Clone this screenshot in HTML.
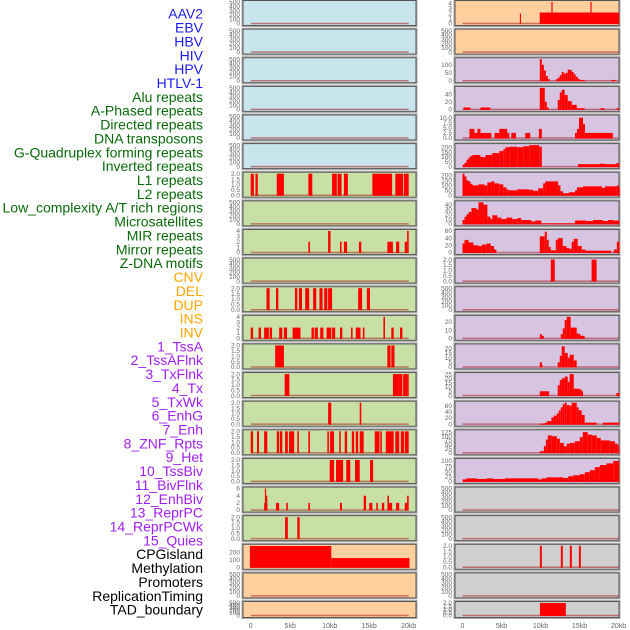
<!DOCTYPE html>
<html><head><meta charset="utf-8">
<style>html,body{margin:0;padding:0;background:#fff}svg{display:block}</style></head>
<body>
<svg id="chart" width="630" height="630" viewBox="0 0 630 630" xmlns="http://www.w3.org/2000/svg">
<g id="labels"></g>
<g id="panels"></g>
<g id="xaxes"></g>
</svg>
<script>
const trackLabels = ["AAV2","EBV","HBV","HIV","HPV","HTLV-1","Alu repeats","A-Phased repeats","Directed repeats","DNA transposons","G-Quadruplex forming repeats","Inverted repeats","L1 repeats","L2 repeats","Low_complexity A/T rich regions","Microsatellites","MIR repeats","Mirror repeats","Z-DNA motifs","CNV","DEL","DUP","INS","INV","1_TssA","2_TssAFlnk","3_TxFlnk","4_Tx","5_TxWk","6_EnhG","7_Enh","8_ZNF_Rpts","9_Het","10_TssBiv","11_BivFlnk","12_EnhBiv","13_ReprPC","14_ReprPCWk","15_Quies","CPGisland","Methylation","Promoters","ReplicationTiming","TAD_boundary"];
const labelGroups = ["virus","virus","virus","virus","virus","virus","repeat","repeat","repeat","repeat","repeat","repeat","repeat","repeat","repeat","repeat","repeat","repeat","repeat","sv","sv","sv","sv","sv","hmm","hmm","hmm","hmm","hmm","hmm","hmm","hmm","hmm","hmm","hmm","hmm","hmm","hmm","hmm","other","other","other","other","other"];
const xTickValues = [0,5,10,15,20];
const xTickLabels = ["0","5kb","10kb","15kb","20kb"];

// Left column panels: y-max, tick values, segments [startKb, endKb, value]
const leftYMax = [500,500,500,500,500,500,2,500,4,500,2,4,2,2,2,2,2,6,2,285,500,500];
const leftTicks = [
[0,100,200,300,400,500],[0,100,200,300,400,500],[0,100,200,300,400,500],[0,100,200,300,400,500],[0,100,200,300,400,500],[0,100,200,300,400,500],
[0,0.5,1,1.5,2],[0,100,200,300,400,500],[0,1,2,3,4],[0,100,200,300,400,500],[0,0.5,1,1.5,2],[0,1,2,3,4],[0,0.5,1,1.5,2],[0,0.5,1,1.5,2],[0,0.5,1,1.5,2],[0,0.5,1,1.5,2],[0,0.5,1,1.5,2],[0,2,4,6],[0,0.5,1,1.5,2],[0,100,200],[0,100,200,300,400,500],[0,100,200,300,400,500]];
const leftSegments = [
[],[],[],[],[],[],
[[0,0.4,2],[0.6,0.9,2],[3.3,4.2,2],[7.3,7.8,2],[10.3,10.9,2],[11.0,11.5,2],[11.8,12.3,2],[15.4,17.9,2],[18.3,19.3,2],[19.4,20,2]],
[],
[[7.3,7.5,2],[9.8,10.1,4],[11.3,11.5,2],[11.8,12.2,2],[13.7,14.0,2],[17.3,18.0,2],[18.4,18.8,2],[19.5,19.8,2],[19.8,20,4]],
[],
[[2.0,2.4,2],[3.2,3.5,2],[5.6,5.9,2],[6.1,6.5,2],[6.9,7.4,2],[7.9,8.3,2],[8.7,9.1,2],[9.3,9.7,2],[9.8,10.3,2],[13.6,14.1,2],[14.7,15.1,2]],
[[0,0.3,2],[1.0,1.3,2],[1.7,2.3,2],[2.4,2.7,2],[3.6,4.0,2],[4.2,4.6,2],[5.3,6.3,2],[7.7,8.0,2],[8.1,8.5,2],[8.8,9.2,2],[9.6,10.2,2],[10.3,10.7,2],[11.3,11.6,2],[12.7,12.9,2],[13.3,13.9,2],[14.2,14.4,2],[16.8,17.0,4],[17.8,18.1,2],[18.9,19.2,2]],
[[3.1,4.2,2],[17.3,17.7,2],[17.8,18.2,2]],
[[4.3,4.9,2],[18.0,18.7,2],[18.7,19.2,2],[19.3,19.9,2],[19.9,20,2]],
[[9.8,10.2,2],[13.8,14.0,2]],
[[0,0.3,2],[0.8,1.05,2],[1.7,2.1,2],[3.3,3.6,2],[3.7,4.0,2],[4.35,4.7,2],[4.85,5.5,2],[5.9,6.1,2],[7.3,7.5,2],[9.7,9.9,2],[10.05,10.55,2],[11.2,11.4,2],[11.9,12.2,2],[12.8,13.1,2],[13.3,13.6,2],[13.8,14.3,2],[15.7,16.3,2],[16.4,16.6,2],[17.1,18.1,2],[18.3,18.8,2],[19.0,19.4,2],[19.5,20,2]],
[[10.0,10.55,2],[10.8,11.7,2],[12.1,12.6,2],[13.2,13.8,2],[15.1,15.5,2]],
[[1.7,2.1,2],[1.8,1.95,6],[1.95,2.1,4],[3.2,3.6,2],[4.5,4.7,2],[7.3,7.5,2],[11.3,11.55,2],[14.3,14.6,4],[15.0,15.4,2],[15.9,16.1,2],[16.6,16.9,2],[17.3,17.5,4],[17.5,17.9,2],[18.4,18.8,2],[19.5,19.8,2],[19.8,20,4]],
[[4.35,4.7,2],[5.9,6.2,2]],
[[-0.1,10.2,282],[10.2,20.1,122]],
[],[]];

const rightYMax = [4.3,500,135,57,10.6,222,218,45,60,2,500,26,23,25,70,130,105,500,500,2,500,2];
const rightTicks = [
[0,1,2,3,4],[0,100,200,300,400,500],[0,50,100],[0,20,40],[0,2.5,5,7.5,10],[0,50,100,150,200],[0,50,100,150,200],[0,10,20,30,40],[0,20,40,60],[0,0.5,1,1.5,2],[0,100,200,300,400,500],[0,10,20],[0,5,10,15,20],[0,5,10,15,20,25],[0,20,40,60],[0,25,50,75,100,125],[0,25,50,75,100],[0,100,200,300,400,500],[0,100,200,300,400,500],[0,0.5,1,1.5,2],[0,100,200,300,400,500],[0,0.5,1,1.5,2]];
const rightSegments = [
[[7.35,7.5,2],[9.9,20.1,2.2],[11.4,11.55,4.3],[16.4,16.55,4.3]],
[],
[[9.91,10.17,135],[10.17,10.43,100],[10.43,10.68,65],[10.68,10.94,30],[10.94,11.19,10],[11.96,12.21,10],[12.21,12.47,20],[12.47,12.72,35],[12.72,12.98,55],[12.98,13.23,45],[13.23,13.49,50],[13.49,13.74,70],[13.74,14.0,68],[14.0,14.26,55],[14.26,14.51,40],[14.51,14.77,25],[14.77,15.02,12],[15.02,15.66,5],[19.1,19.62,5]],
[[0.13,1.02,5],[2.3,3.57,5],[9.91,10.55,57],[10.55,10.81,20],[10.81,11.06,5],[12.21,12.47,25],[12.47,12.72,45],[12.72,13.1,52],[13.1,13.49,38],[13.49,14.0,22],[14.0,14.64,12],[14.64,15.66,3],[17.7,18.21,3],[19.74,20.1,3]],
[[0.89,1.53,4.5],[1.53,1.91,2.5],[1.91,2.3,4.5],[2.3,3.7,2.5],[4.09,4.72,2.5],[4.72,5.74,4.5],[5.74,6.0,2.5],[6.26,6.85,2.5],[8.04,8.68,2.5],[9.79,10.17,4.5],[14.43,14.68,2.5],[14.68,14.94,4.5],[14.94,15.45,10],[15.45,15.7,7],[15.7,19.28,2.5]],
[[0,0.26,20],[0.26,0.51,40],[0.51,0.77,70],[0.77,1.02,95],[1.02,1.28,110],[1.28,2.3,120],[2.3,2.68,100],[2.68,2.94,95],[2.94,3.83,120],[3.83,4.72,140],[4.72,5.23,160],[5.23,5.49,180],[5.49,6.0,200],[6.0,7.02,205],[7.02,7.79,200],[7.79,8.55,210],[8.55,9.83,222],[9.83,10.17,205],[14.81,17.57,25],[17.57,18.21,30],[18.21,19.7,25],[19.7,20.1,35]],
[[0,0.26,218],[0.26,0.51,190],[0.51,0.77,150],[0.77,1.02,140],[1.02,1.28,115],[1.28,2.04,100],[2.04,2.81,110],[2.81,3.19,100],[3.19,3.7,130],[3.7,4.09,140],[4.09,4.72,120],[4.72,5.23,110],[5.23,5.62,80],[5.62,5.87,60],[5.87,7.02,50],[7.02,8.55,60],[8.55,9.06,55],[9.06,9.7,45],[9.7,10.34,70],[10.34,10.6,120],[10.6,12.26,140],[12.26,12.55,100],[12.55,12.89,40],[12.89,13.66,20],[13.66,14.43,30],[14.43,14.68,50],[14.68,15.45,80],[15.45,17.87,90],[17.87,18.26,75],[18.26,19.79,90],[19.79,20.04,100],[20.04,20.17,80]],
[[0,0.26,8],[0.26,0.51,15],[0.51,0.77,20],[0.77,1.15,25],[1.15,1.79,33],[1.79,2.04,30],[2.04,2.68,45],[2.68,3.19,40],[3.19,3.57,15],[3.57,3.83,10],[3.83,4.47,18],[4.47,4.98,13],[4.98,5.62,10],[5.62,6.38,13],[6.38,7.02,10],[7.02,7.53,12],[7.53,8.81,8],[8.81,9.32,5],[9.32,10.09,7],[10.09,14.43,1],[14.43,15.87,7],[15.87,16.72,6],[16.72,18.0,8],[18.0,18.64,6],[18.64,19.28,8],[19.28,20.13,7]],
[[0,0.26,25],[0.26,0.77,35],[0.77,1.4,28],[1.4,2.04,20],[2.04,2.47,18],[2.47,3.11,22],[3.11,3.62,25],[3.62,4.04,18],[4.04,4.34,8],[9.91,10.55,45],[10.55,10.81,58],[10.81,11.06,35],[11.06,11.32,15],[11.32,11.96,6],[11.96,12.21,35],[12.21,12.85,40],[12.85,13.32,18],[13.32,13.74,12],[13.74,14.0,10],[14.0,14.26,30],[14.26,14.77,38],[14.77,15.28,18],[15.28,15.79,8],[15.79,17.57,5],[17.57,19.06,5],[19.4,19.79,8],[19.79,20.13,30]],
[[11.32,11.83,2],[16.55,17.19,2]],
[],
[[9.91,10.17,5],[10.17,10.43,3],[12.6,12.85,5],[12.85,13.1,12],[13.1,13.36,22],[13.36,13.87,26],[13.87,14.64,13],[14.64,14.89,6],[14.89,15.15,5],[15.15,15.66,3]],
[[9.91,10.17,5],[10.17,10.26,2],[12.21,12.47,5],[12.47,12.72,12],[12.72,13.1,22],[13.1,13.49,15],[13.49,13.74,10],[13.74,14.26,13],[14.26,14.64,7]],
[[9.91,11.1,5],[12.21,12.47,12],[12.47,12.72,18],[12.72,13.1,20],[13.1,13.49,22],[13.49,13.74,16],[13.74,14.26,25],[14.26,15.02,8],[15.02,15.28,7],[15.28,15.45,5],[19.74,20.13,3]],
[[9.91,10.55,2],[10.55,10.85,5],[10.85,11.4,10],[11.4,11.7,22],[11.7,12.09,28],[12.09,12.34,35],[12.34,12.6,45],[12.6,12.85,55],[12.85,13.1,65],[13.1,13.36,70],[13.36,13.74,62],[13.74,14.0,60],[14.0,14.64,70],[14.64,14.89,55],[14.89,15.28,45],[15.28,15.66,30],[15.66,17.19,5],[18.0,20.13,5]],
[[9.92,10.43,10],[10.43,10.69,40],[10.69,10.94,80],[10.94,11.45,105],[11.45,12.09,100],[12.09,12.48,85],[12.48,12.99,60],[12.99,13.37,40],[13.37,13.76,55],[13.76,14.4,60],[14.4,15.04,70],[15.04,15.42,95],[15.42,16.06,125],[16.06,16.58,110],[16.58,17.22,105],[17.22,17.73,90],[17.73,18.88,75],[18.88,19.53,70],[19.53,19.91,55],[19.91,20.1,45]],
[[0,0.5,10],[0.5,1.8,15],[1.8,3.08,12],[3.08,3.93,15],[3.93,5.43,12],[5.43,9.7,15],[9.7,10.13,10],[10.13,10.77,15],[10.77,12.9,20],[12.9,13.55,17],[13.55,14.19,25],[14.19,15.04,30],[15.04,15.68,35],[15.68,16.32,45],[16.32,16.97,55],[16.97,17.61,70],[17.61,18.46,80],[18.46,19.32,88],[19.32,20.1,100]],
[],[],
[[9.92,10.17,2],[12.61,12.86,2],[13.76,14.02,2],[14.92,15.17,2]],
[],
[[9.92,13.25,2]]];

const leftColor = ["#c8e4ec","#c8e4ec","#c8e4ec","#c8e4ec","#c8e4ec","#c8e4ec","#c8e0a6","#c8e0a6","#c8e0a6","#c8e0a6","#c8e0a6","#c8e0a6","#c8e0a6","#c8e0a6","#c8e0a6","#c8e0a6","#c8e0a6","#c8e0a6","#c8e0a6","#ffcf9e","#ffcf9e","#ffcf9e"];
const rightColor = ["#ffcf9e","#ffcf9e","#d6c4e1","#d6c4e1","#d6c4e1","#d6c4e1","#d6c4e1","#d6c4e1","#d6c4e1","#d6c4e1","#d6c4e1","#d6c4e1","#d6c4e1","#d6c4e1","#d6c4e1","#d6c4e1","#d6c4e1","#d0d0d0","#d0d0d0","#d0d0d0","#d0d0d0","#d0d0d0"];

const NS = "http://www.w3.org/2000/svg";
function mk(tag, attrs, parent){const e=document.createElementNS(NS,tag);for(const k in attrs)e.setAttribute(k,attrs[k]);parent.appendChild(e);return e;}
const groupColors = {virus:"#1c1cf0",repeat:"#0a6a0a",sv:"#ffa500",hmm:"#a020f0",other:"#000"};
const labelG = document.getElementById("labels");
trackLabels.forEach((t,i)=>{
  const el = mk("text",{x:203,y:15+i*13.86,"text-anchor":"end","dominant-baseline":"middle","font-family":"Liberation Sans, sans-serif","font-size":"14",fill:groupColors[labelGroups[i]]},labelG);
  
  
  el.textContent = t;
});

const panelsG = document.getElementById("panels");
const cols = [
  {x:243,w:173,x0:250.7,k:7.9,ymax:leftYMax,ticks:leftTicks,segs:leftSegments,colors:leftColor,side:"left"},
  {x:455,w:164,x0:462.5,k:7.8,ymax:rightYMax,ticks:rightTicks,segs:rightSegments,colors:rightColor,side:"right"}
];
function fmt(v, ticks){
  const dec = ticks.some(t=>t%1!==0) ? 1 : 0;
  if (ticks.length===5 && ticks[4]===2) return v.toFixed(1);
  return dec ? v.toFixed(1) : String(v);
}
cols.forEach(c=>{
  for(let r=0;r<22;r++){
    const top = 0.5 + r*28.62;
    const h = r===21 ? 16 : 25;
    const g = mk("g",{},panelsG);
    
    
    mk("rect",{x:c.x-1,y:top-1,width:c.w+2,height:h+2,fill:"none",stroke:"#aaa","stroke-width":1},g);
    const bg = mk("rect",{x:c.x,y:top,width:c.w,height:h,fill:c.colors[r],stroke:"#555","stroke-width":1},g);
    
    
    const y0 = top+h-2, y1 = top+1.5;
    const ys = v => y0 - (v/c.ymax[r])*(y0-y1);
    const xs = kb => c.x0 + Math.max(-0.2,Math.min(20.2,kb))*c.k;
    const base = mk("line",{x1:xs(0),x2:xs(20),y1:y0,y2:y0,stroke:"rgba(170,30,30,0.55)","stroke-width":1.5},g);
    
    
    c.segs[r].forEach(s=>{
      const v = Math.min(s[2], c.ymax[r]);
      const b = mk("rect",{x:xs(s[0]),y:ys(v),width:Math.max(0.8,xs(s[1])-xs(s[0])),height:y0-ys(v)+0.5,fill:"#ff0000"},g);
      
      
    });
    c.ticks[r].forEach(t=>{
      const tl = mk("text",{x:c.x-3,y:ys(t)+2.2,"text-anchor":"end","font-family":"Liberation Sans, sans-serif","font-size":"6.5",fill:"#666"},g);
      
      
      tl.textContent = fmt(t, c.ticks[r]);
    });
  }
  const xg = document.getElementById("xaxes");
  xTickValues.forEach((v,i)=>{
    const tx = mk("text",{x:c.x0+v*c.k,y:628,"text-anchor":"middle","font-family":"Liberation Sans, sans-serif","font-size":"7",fill:"#666"},xg);
    
    
    tx.textContent = xTickLabels[i];
  });
});
</script>
</body></html>
